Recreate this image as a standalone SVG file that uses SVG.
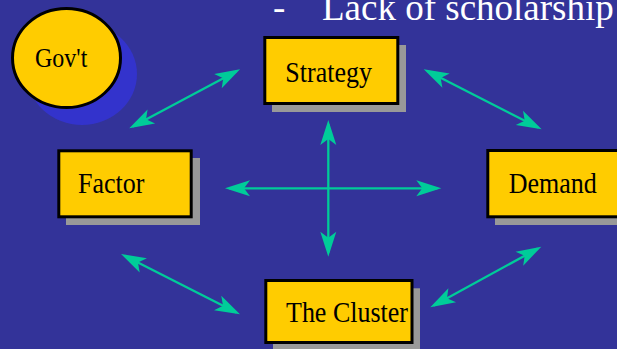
<svg xmlns="http://www.w3.org/2000/svg" width="617" height="349" viewBox="0 0 617 349">
<style>
.bg{fill:#333399}
.box{fill:#FFCC00;stroke:#000;stroke-width:3}
.shadow{fill:#999999}
.lbl{font-family:"Liberation Serif","Times New Roman",serif;font-size:26px;fill:#000}
.title{font-family:"Liberation Serif","Times New Roman",serif;font-size:37px;fill:#FFFFFF}
.conn{stroke:#00CC99;stroke-width:2.3;fill:none;marker-start:url(#ah);marker-end:url(#ah)}
</style>
<defs>
<marker id="ah" viewBox="-25 -10 32 20" refX="0" refY="0" markerWidth="32" markerHeight="20" markerUnits="userSpaceOnUse" orient="auto-start-reverse" overflow="visible">
<path d="M4,0 L-21,-8 L-15,0 L-21,8 Z" fill="#00CC99"/>
</marker>
</defs>
<rect class="bg" x="0" y="0" width="617" height="349"/>
<text class="title" y="20"><tspan x="273">-</tspan><tspan x="322">Lack of scholarship</tspan></text>
<g id="govt">
<ellipse cx="82" cy="74" rx="55" ry="51" fill="#3333CC"/>
<ellipse class="box" cx="66.5" cy="58" rx="54" ry="49.5"/>
<text class="lbl" transform="translate(35,67) scale(1,1.1)" style="font-size:24px">Gov't</text>
</g>
<g id="strategy">
<rect class="shadow" x="272" y="45" width="134" height="67"/>
<rect class="box" x="264.8" y="37.5" width="133" height="66"/>
<text class="lbl" transform="translate(285.3,81.7) scale(1,1.12)">Strategy</text>
</g>
<g id="factor">
<rect class="shadow" x="66" y="158" width="134" height="67"/>
<rect class="box" x="58.8" y="150.8" width="132.4" height="66"/>
<text class="lbl" transform="translate(78,193.3) scale(1,1.12)">Factor</text>
</g>
<g id="demand">
<rect class="shadow" x="495" y="158" width="134" height="67"/>
<rect class="box" x="487.8" y="150.5" width="133" height="66.3"/>
<text class="lbl" transform="translate(508.7,193) scale(1,1.12)">Demand</text>
</g>
<g id="cluster">
<rect class="shadow" x="273" y="288.3" width="147" height="65"/>
<rect class="box" x="265.8" y="280.5" width="146.2" height="62"/>
<text class="lbl" transform="translate(286,321.7) scale(1,1.12)">The Cluster</text>
</g>
<g id="connectors">
<line class="conn" x1="132.8" y1="126.4" x2="236.5" y2="71.2"/>
<line class="conn" x1="427.3" y1="71.1" x2="538.1" y2="127.5"/>
<line class="conn" x1="328.3" y1="124" x2="328.3" y2="252.7"/>
<line class="conn" x1="229" y1="188.3" x2="437.3" y2="188.3"/>
<line class="conn" x1="124.6" y1="255.8" x2="236.4" y2="312.5"/>
<line class="conn" x1="537.8" y1="248.6" x2="433.8" y2="305.4"/>
</g>
</svg>
